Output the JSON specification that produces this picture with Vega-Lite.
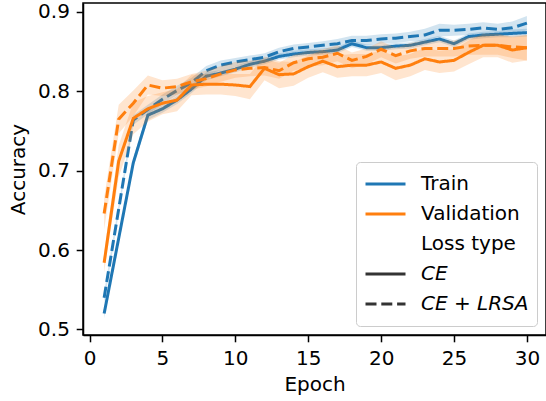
{
  "$schema": "https://vega.github.io/schema/vega-lite/v6.json",
  "width": 463,
  "height": 332,
  "autosize": {"type": "none"},
  "padding": {"left": 83, "top": 3, "right": 0, "bottom": 66},
  "background": "white",
  "config": {
    "font": "DejaVu Sans",
    "view": {"stroke": "black", "strokeWidth": 1.5},
    "axis": {
      "grid": false, "domainColor": "black", "domainWidth": 1.5,
      "tickColor": "black", "tickWidth": 1.5, "tickSize": 6.8, "labelPadding": 6.8,
      "labelFontSize": 20, "labelColor": "black", "labelFont": "DejaVu Sans",
      "titleFont": "DejaVu Sans", "titleFontSize": 20, "titleFontWeight": "normal",
      "titleColor": "black", "titlePadding": 6, "labelFlush": false, "labelOverlap": false
    },
    "axisY": {"titlePadding": 9}
  },
  "datasets": {
    "acc": [
      {"epoch":1,"phase":"Train","loss":"CE","acc":0.520,"lo":0.514,"hi":0.526},
      {"epoch":2,"phase":"Train","loss":"CE","acc":0.615,"lo":0.609,"hi":0.621},
      {"epoch":3,"phase":"Train","loss":"CE","acc":0.710,"lo":0.704,"hi":0.716},
      {"epoch":4,"phase":"Train","loss":"CE","acc":0.770,"lo":0.764,"hi":0.776},
      {"epoch":5,"phase":"Train","loss":"CE","acc":0.778,"lo":0.773,"hi":0.783},
      {"epoch":6,"phase":"Train","loss":"CE","acc":0.789,"lo":0.784,"hi":0.794},
      {"epoch":7,"phase":"Train","loss":"CE","acc":0.803,"lo":0.798,"hi":0.808},
      {"epoch":8,"phase":"Train","loss":"CE","acc":0.819,"lo":0.814,"hi":0.824},
      {"epoch":9,"phase":"Train","loss":"CE","acc":0.823,"lo":0.819,"hi":0.827},
      {"epoch":10,"phase":"Train","loss":"CE","acc":0.828,"lo":0.824,"hi":0.832},
      {"epoch":11,"phase":"Train","loss":"CE","acc":0.834,"lo":0.830,"hi":0.838},
      {"epoch":12,"phase":"Train","loss":"CE","acc":0.838,"lo":0.834,"hi":0.842},
      {"epoch":13,"phase":"Train","loss":"CE","acc":0.844,"lo":0.840,"hi":0.848},
      {"epoch":14,"phase":"Train","loss":"CE","acc":0.847,"lo":0.843,"hi":0.851},
      {"epoch":15,"phase":"Train","loss":"CE","acc":0.849,"lo":0.845,"hi":0.853},
      {"epoch":16,"phase":"Train","loss":"CE","acc":0.850,"lo":0.846,"hi":0.854},
      {"epoch":17,"phase":"Train","loss":"CE","acc":0.852,"lo":0.848,"hi":0.856},
      {"epoch":18,"phase":"Train","loss":"CE","acc":0.860,"lo":0.856,"hi":0.864},
      {"epoch":19,"phase":"Train","loss":"CE","acc":0.855,"lo":0.851,"hi":0.859},
      {"epoch":20,"phase":"Train","loss":"CE","acc":0.855,"lo":0.851,"hi":0.859},
      {"epoch":21,"phase":"Train","loss":"CE","acc":0.857,"lo":0.853,"hi":0.861},
      {"epoch":22,"phase":"Train","loss":"CE","acc":0.858,"lo":0.854,"hi":0.862},
      {"epoch":23,"phase":"Train","loss":"CE","acc":0.862,"lo":0.858,"hi":0.866},
      {"epoch":24,"phase":"Train","loss":"CE","acc":0.866,"lo":0.862,"hi":0.870},
      {"epoch":25,"phase":"Train","loss":"CE","acc":0.860,"lo":0.856,"hi":0.864},
      {"epoch":26,"phase":"Train","loss":"CE","acc":0.869,"lo":0.865,"hi":0.873},
      {"epoch":27,"phase":"Train","loss":"CE","acc":0.871,"lo":0.867,"hi":0.875},
      {"epoch":28,"phase":"Train","loss":"CE","acc":0.872,"lo":0.868,"hi":0.876},
      {"epoch":29,"phase":"Train","loss":"CE","acc":0.873,"lo":0.868,"hi":0.878},
      {"epoch":30,"phase":"Train","loss":"CE","acc":0.874,"lo":0.869,"hi":0.879},

      {"epoch":1,"phase":"Train","loss":"CE + LRSA","acc":0.540,"lo":0.533,"hi":0.547},
      {"epoch":2,"phase":"Train","loss":"CE + LRSA","acc":0.652,"lo":0.646,"hi":0.658},
      {"epoch":3,"phase":"Train","loss":"CE + LRSA","acc":0.764,"lo":0.758,"hi":0.770},
      {"epoch":4,"phase":"Train","loss":"CE + LRSA","acc":0.777,"lo":0.771,"hi":0.783},
      {"epoch":5,"phase":"Train","loss":"CE + LRSA","acc":0.790,"lo":0.784,"hi":0.796},
      {"epoch":6,"phase":"Train","loss":"CE + LRSA","acc":0.801,"lo":0.795,"hi":0.807},
      {"epoch":7,"phase":"Train","loss":"CE + LRSA","acc":0.811,"lo":0.805,"hi":0.817},
      {"epoch":8,"phase":"Train","loss":"CE + LRSA","acc":0.826,"lo":0.820,"hi":0.832},
      {"epoch":9,"phase":"Train","loss":"CE + LRSA","acc":0.833,"lo":0.827,"hi":0.839},
      {"epoch":10,"phase":"Train","loss":"CE + LRSA","acc":0.837,"lo":0.832,"hi":0.842},
      {"epoch":11,"phase":"Train","loss":"CE + LRSA","acc":0.840,"lo":0.835,"hi":0.845},
      {"epoch":12,"phase":"Train","loss":"CE + LRSA","acc":0.843,"lo":0.838,"hi":0.848},
      {"epoch":13,"phase":"Train","loss":"CE + LRSA","acc":0.850,"lo":0.845,"hi":0.855},
      {"epoch":14,"phase":"Train","loss":"CE + LRSA","acc":0.854,"lo":0.849,"hi":0.859},
      {"epoch":15,"phase":"Train","loss":"CE + LRSA","acc":0.856,"lo":0.851,"hi":0.861},
      {"epoch":16,"phase":"Train","loss":"CE + LRSA","acc":0.858,"lo":0.853,"hi":0.863},
      {"epoch":17,"phase":"Train","loss":"CE + LRSA","acc":0.860,"lo":0.854,"hi":0.866},
      {"epoch":18,"phase":"Train","loss":"CE + LRSA","acc":0.864,"lo":0.858,"hi":0.870},
      {"epoch":19,"phase":"Train","loss":"CE + LRSA","acc":0.864,"lo":0.858,"hi":0.870},
      {"epoch":20,"phase":"Train","loss":"CE + LRSA","acc":0.866,"lo":0.860,"hi":0.872},
      {"epoch":21,"phase":"Train","loss":"CE + LRSA","acc":0.867,"lo":0.861,"hi":0.873},
      {"epoch":22,"phase":"Train","loss":"CE + LRSA","acc":0.869,"lo":0.863,"hi":0.875},
      {"epoch":23,"phase":"Train","loss":"CE + LRSA","acc":0.871,"lo":0.863,"hi":0.879},
      {"epoch":24,"phase":"Train","loss":"CE + LRSA","acc":0.877,"lo":0.869,"hi":0.885},
      {"epoch":25,"phase":"Train","loss":"CE + LRSA","acc":0.877,"lo":0.870,"hi":0.884},
      {"epoch":26,"phase":"Train","loss":"CE + LRSA","acc":0.878,"lo":0.871,"hi":0.885},
      {"epoch":27,"phase":"Train","loss":"CE + LRSA","acc":0.880,"lo":0.873,"hi":0.887},
      {"epoch":28,"phase":"Train","loss":"CE + LRSA","acc":0.878,"lo":0.871,"hi":0.885},
      {"epoch":29,"phase":"Train","loss":"CE + LRSA","acc":0.880,"lo":0.872,"hi":0.888},
      {"epoch":30,"phase":"Train","loss":"CE + LRSA","acc":0.886,"lo":0.877,"hi":0.895},

      {"epoch":1,"phase":"Validation","loss":"CE","acc":0.584,"lo":0.572,"hi":0.596},
      {"epoch":2,"phase":"Validation","loss":"CE","acc":0.712,"lo":0.692,"hi":0.732},
      {"epoch":3,"phase":"Validation","loss":"CE","acc":0.766,"lo":0.746,"hi":0.786},
      {"epoch":4,"phase":"Validation","loss":"CE","acc":0.778,"lo":0.762,"hi":0.794},
      {"epoch":5,"phase":"Validation","loss":"CE","acc":0.785,"lo":0.771,"hi":0.799},
      {"epoch":6,"phase":"Validation","loss":"CE","acc":0.789,"lo":0.775,"hi":0.803},
      {"epoch":7,"phase":"Validation","loss":"CE","acc":0.808,"lo":0.795,"hi":0.821},
      {"epoch":8,"phase":"Validation","loss":"CE","acc":0.809,"lo":0.796,"hi":0.822},
      {"epoch":9,"phase":"Validation","loss":"CE","acc":0.809,"lo":0.796,"hi":0.822},
      {"epoch":10,"phase":"Validation","loss":"CE","acc":0.808,"lo":0.794,"hi":0.822},
      {"epoch":11,"phase":"Validation","loss":"CE","acc":0.806,"lo":0.790,"hi":0.822},
      {"epoch":12,"phase":"Validation","loss":"CE","acc":0.829,"lo":0.814,"hi":0.844},
      {"epoch":13,"phase":"Validation","loss":"CE","acc":0.821,"lo":0.804,"hi":0.838},
      {"epoch":14,"phase":"Validation","loss":"CE","acc":0.822,"lo":0.807,"hi":0.837},
      {"epoch":15,"phase":"Validation","loss":"CE","acc":0.831,"lo":0.817,"hi":0.845},
      {"epoch":16,"phase":"Validation","loss":"CE","acc":0.838,"lo":0.824,"hi":0.852},
      {"epoch":17,"phase":"Validation","loss":"CE","acc":0.831,"lo":0.817,"hi":0.845},
      {"epoch":18,"phase":"Validation","loss":"CE","acc":0.833,"lo":0.819,"hi":0.847},
      {"epoch":19,"phase":"Validation","loss":"CE","acc":0.833,"lo":0.819,"hi":0.847},
      {"epoch":20,"phase":"Validation","loss":"CE","acc":0.837,"lo":0.823,"hi":0.851},
      {"epoch":21,"phase":"Validation","loss":"CE","acc":0.829,"lo":0.814,"hi":0.844},
      {"epoch":22,"phase":"Validation","loss":"CE","acc":0.833,"lo":0.819,"hi":0.847},
      {"epoch":23,"phase":"Validation","loss":"CE","acc":0.841,"lo":0.827,"hi":0.855},
      {"epoch":24,"phase":"Validation","loss":"CE","acc":0.837,"lo":0.823,"hi":0.851},
      {"epoch":25,"phase":"Validation","loss":"CE","acc":0.839,"lo":0.825,"hi":0.853},
      {"epoch":26,"phase":"Validation","loss":"CE","acc":0.849,"lo":0.834,"hi":0.864},
      {"epoch":27,"phase":"Validation","loss":"CE","acc":0.858,"lo":0.843,"hi":0.873},
      {"epoch":28,"phase":"Validation","loss":"CE","acc":0.858,"lo":0.843,"hi":0.873},
      {"epoch":29,"phase":"Validation","loss":"CE","acc":0.852,"lo":0.836,"hi":0.868},
      {"epoch":30,"phase":"Validation","loss":"CE","acc":0.855,"lo":0.839,"hi":0.871},

      {"epoch":1,"phase":"Validation","loss":"CE + LRSA","acc":0.646,"lo":0.626,"hi":0.666},
      {"epoch":2,"phase":"Validation","loss":"CE + LRSA","acc":0.765,"lo":0.747,"hi":0.783},
      {"epoch":3,"phase":"Validation","loss":"CE + LRSA","acc":0.785,"lo":0.769,"hi":0.801},
      {"epoch":4,"phase":"Validation","loss":"CE + LRSA","acc":0.808,"lo":0.796,"hi":0.820},
      {"epoch":5,"phase":"Validation","loss":"CE + LRSA","acc":0.804,"lo":0.794,"hi":0.814},
      {"epoch":6,"phase":"Validation","loss":"CE + LRSA","acc":0.806,"lo":0.796,"hi":0.816},
      {"epoch":7,"phase":"Validation","loss":"CE + LRSA","acc":0.812,"lo":0.802,"hi":0.822},
      {"epoch":8,"phase":"Validation","loss":"CE + LRSA","acc":0.816,"lo":0.806,"hi":0.826},
      {"epoch":9,"phase":"Validation","loss":"CE + LRSA","acc":0.822,"lo":0.812,"hi":0.832},
      {"epoch":10,"phase":"Validation","loss":"CE + LRSA","acc":0.827,"lo":0.817,"hi":0.837},
      {"epoch":11,"phase":"Validation","loss":"CE + LRSA","acc":0.829,"lo":0.819,"hi":0.839},
      {"epoch":12,"phase":"Validation","loss":"CE + LRSA","acc":0.830,"lo":0.820,"hi":0.840},
      {"epoch":13,"phase":"Validation","loss":"CE + LRSA","acc":0.826,"lo":0.816,"hi":0.836},
      {"epoch":14,"phase":"Validation","loss":"CE + LRSA","acc":0.836,"lo":0.826,"hi":0.846},
      {"epoch":15,"phase":"Validation","loss":"CE + LRSA","acc":0.841,"lo":0.831,"hi":0.851},
      {"epoch":16,"phase":"Validation","loss":"CE + LRSA","acc":0.843,"lo":0.833,"hi":0.853},
      {"epoch":17,"phase":"Validation","loss":"CE + LRSA","acc":0.848,"lo":0.838,"hi":0.858},
      {"epoch":18,"phase":"Validation","loss":"CE + LRSA","acc":0.839,"lo":0.829,"hi":0.849},
      {"epoch":19,"phase":"Validation","loss":"CE + LRSA","acc":0.844,"lo":0.834,"hi":0.854},
      {"epoch":20,"phase":"Validation","loss":"CE + LRSA","acc":0.853,"lo":0.843,"hi":0.863},
      {"epoch":21,"phase":"Validation","loss":"CE + LRSA","acc":0.845,"lo":0.835,"hi":0.855},
      {"epoch":22,"phase":"Validation","loss":"CE + LRSA","acc":0.851,"lo":0.841,"hi":0.861},
      {"epoch":23,"phase":"Validation","loss":"CE + LRSA","acc":0.854,"lo":0.844,"hi":0.864},
      {"epoch":24,"phase":"Validation","loss":"CE + LRSA","acc":0.854,"lo":0.844,"hi":0.864},
      {"epoch":25,"phase":"Validation","loss":"CE + LRSA","acc":0.854,"lo":0.844,"hi":0.864},
      {"epoch":26,"phase":"Validation","loss":"CE + LRSA","acc":0.857,"lo":0.846,"hi":0.868},
      {"epoch":27,"phase":"Validation","loss":"CE + LRSA","acc":0.858,"lo":0.846,"hi":0.870},
      {"epoch":28,"phase":"Validation","loss":"CE + LRSA","acc":0.858,"lo":0.846,"hi":0.870},
      {"epoch":29,"phase":"Validation","loss":"CE + LRSA","acc":0.856,"lo":0.842,"hi":0.870},
      {"epoch":30,"phase":"Validation","loss":"CE + LRSA","acc":0.855,"lo":0.839,"hi":0.871}
    ]
  },
  "data": {"name": "acc"},
  "layer": [
    {
      "transform": [{"filter": "datum.phase === 'Train'"}],
      "mark": {"type": "area", "opacity": 0.2},
      "encoding": {
        "x": {"field": "epoch", "type": "quantitative", "scale": {"domain": [-0.45, 31.31], "nice": false, "zero": false}, "axis": {"values": [0, 5, 10, 15, 20, 25, 30], "title": "Epoch"}},
        "y": {"field": "lo", "type": "quantitative", "scale": {"domain": [0.493, 0.9113], "nice": false, "zero": false}, "axis": {"values": [0.5, 0.6, 0.7, 0.8, 0.9], "format": ".1f", "title": "Accuracy"}},
        "y2": {"field": "hi"},
        "color": {"field": "phase", "type": "nominal", "scale": {"domain": ["Train", "Validation"], "range": ["#1f77b4", "#ff7f0e"]}, "legend": null},
        "detail": {"field": "loss"}
      }
    },
    {
      "transform": [{"filter": "datum.phase === 'Train'"}],
      "mark": {"type": "line", "strokeWidth": 3},
      "encoding": {
        "x": {"field": "epoch", "type": "quantitative", "title": "Epoch"},
        "y": {"field": "acc", "type": "quantitative", "title": "Accuracy"},
        "color": {"field": "phase", "type": "nominal", "legend": null},
        "strokeDash": {
          "field": "loss", "type": "nominal",
          "scale": {"domain": ["Train", "Validation", "Loss type", "CE", "CE + LRSA"], "range": [[1, 0], [1, 0], [1, 0], [1, 0], [11, 4.8]]},
          "legend": {
            "title": null, "orient": "bottom-right", "offset": 9,
            "symbolType": "stroke", "symbolSize": 1600, "symbolStrokeWidth": 3,
            "labelFontSize": 20, "labelFont": "DejaVu Sans", "labelColor": "black", "labelOffset": 14, "labelLimit": 400,
            "fillColor": "rgba(255,255,255,0.8)", "strokeColor": "#cccccc", "cornerRadius": 4, "padding": 8,
            "clipHeight": 28, "rowPadding": 2,
            "encode": {
              "symbols": {
                "update": {
                  "stroke": {"signal": "datum.value === 'Train' ? '#1f77b4' : datum.value === 'Validation' ? '#ff7f0e' : datum.value === 'Loss type' ? 'transparent' : '#333333'"},
                  "strokeWidth": {"value": 3}
                }
              },
              "labels": {
                "update": {
                  "fontStyle": {"signal": "datum.value === 'CE' || datum.value === 'CE + LRSA' ? 'italic' : 'normal'"}
                }
              }
            }
          }
        }
      }
    },
    {
      "transform": [{"filter": "datum.phase === 'Validation'"}],
      "mark": {"type": "area", "opacity": 0.2},
      "encoding": {
        "x": {"field": "epoch", "type": "quantitative", "title": "Epoch"},
        "y": {"field": "lo", "type": "quantitative", "title": "Accuracy"},
        "y2": {"field": "hi"},
        "color": {"field": "phase", "type": "nominal", "legend": null},
        "detail": {"field": "loss"}
      }
    },
    {
      "transform": [{"filter": "datum.phase === 'Validation'"}],
      "mark": {"type": "line", "strokeWidth": 3},
      "encoding": {
        "x": {"field": "epoch", "type": "quantitative", "title": "Epoch"},
        "y": {"field": "acc", "type": "quantitative", "title": "Accuracy"},
        "color": {"field": "phase", "type": "nominal", "legend": null},
        "strokeDash": {"field": "loss", "type": "nominal"}
      }
    }
  ]
}
